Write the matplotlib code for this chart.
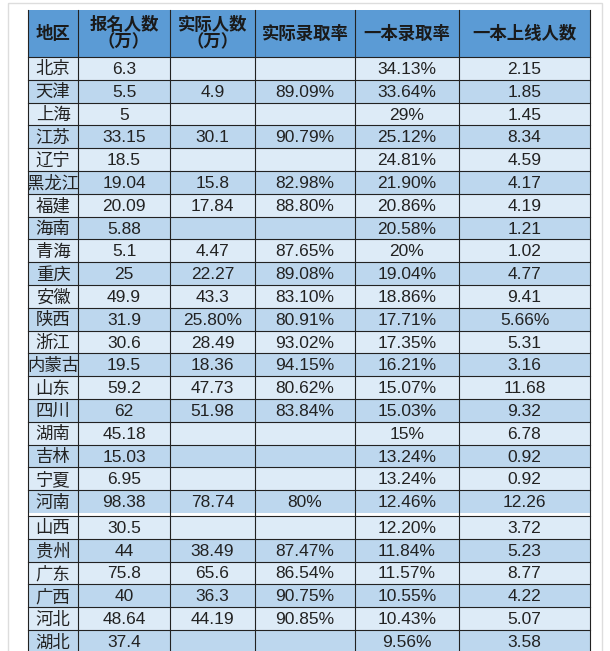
import matplotlib
matplotlib.use("Agg")
import matplotlib.pyplot as plt
from matplotlib.patches import Rectangle

plt.rcParams["font.family"] = ["Liberation Sans", "Noto Sans CJK JP", "Noto Sans CJK SC"]

headers = ["地区", "报名人数\n（万）", "实际人数\n（万）", "实际录取率", "一本录取率", "一本上线人数"]
regions = ["北京","天津","上海","江苏","辽宁","黑龙江","福建","海南","青海","重庆","安徽","陕西","浙江","内蒙古","山东","四川","湖南","吉林","宁夏","河南","山西","贵州","广东","广西","河北","湖北"]
applicants = ["6.3","5.5","5","33.15","18.5","19.04","20.09","5.88","5.1","25","49.9","31.9","30.6","19.5","59.2","62","45.18","15.03","6.95","98.38","30.5","44","75.8","40","48.64","37.4"]
actual = ["","4.9","","30.1","","15.8","17.84","","4.47","22.27","43.3","25.80%","28.49","18.36","47.73","51.98","","","","78.74","","38.49","65.6","36.3","44.19",""]
actual_rate = ["","89.09%","","90.79%","","82.98%","88.80%","","87.65%","89.08%","83.10%","80.91%","93.02%","94.15%","80.62%","83.84%","","","","80%","","87.47%","86.54%","90.75%","90.85%",""]
tier1_rate = ["34.13%","33.64%","29%","25.12%","24.81%","21.90%","20.86%","20.58%","20%","19.04%","18.86%","17.71%","17.35%","16.21%","15.07%","15.03%","15%","13.24%","13.24%","12.46%","12.20%","11.84%","11.57%","10.55%","10.43%","9.56%"]
tier1_count = ["2.15","1.85","1.45","8.34","4.59","4.17","4.19","1.21","1.02","4.77","9.41","5.66%","5.31","3.16","11.68","9.32","6.78","0.92","0.92","12.26","3.72","5.23","8.77","4.22","5.07","3.58"]

W, H = 610, 651
fig = plt.figure(figsize=(W/100, H/100), dpi=100)
ax = fig.add_axes([0, 0, 1, 1])
ax.set_xlim(0, W); ax.set_ylim(H, 0); ax.axis("off")

ax.add_patch(Rectangle((8, 3), 594, 660, fill=False, ec="#dddddd", lw=1))
xs = [28, 78, 170, 255, 355, 459, 590]
top, hh, rh = 10, 47, 22.8
ax.add_patch(Rectangle((xs[0], top), xs[-1]-xs[0], hh, fc="#5b9bd5", ec="none"))
for i, h in enumerate(headers):
    ax.text((xs[i]+xs[i+1])/2, top+hh/2, h, ha="center", va="center", fontsize=12.5,
            fontweight="bold", color="#1a1a1a", linespacing=1.05)
cols = [regions, applicants, actual, actual_rate, tier1_rate, tier1_count]
y = top + hh
for r in range(len(regions)):
    if r == 20:
        y += 3
    fc = "#ddebf7" if r % 2 == 0 else "#bdd7ee"
    ax.add_patch(Rectangle((xs[0], y), xs[-1]-xs[0], rh, fc=fc, ec="none"))
    ax.plot([xs[0], xs[-1]], [y, y], color="#222222", lw=0.8)
    for c in range(6):
        x = xs[c]+25 if c == 0 else (xs[c]+xs[c+1])/2
        ax.text(x, y+rh/2+1, cols[c][r], ha="center", va="center", fontsize=12.5,
                color="#222222")
    y += rh
for x in xs:
    ax.plot([x, x], [top, y], color="#222222", lw=0.8)
fig.savefig("out.png", dpi=100)
